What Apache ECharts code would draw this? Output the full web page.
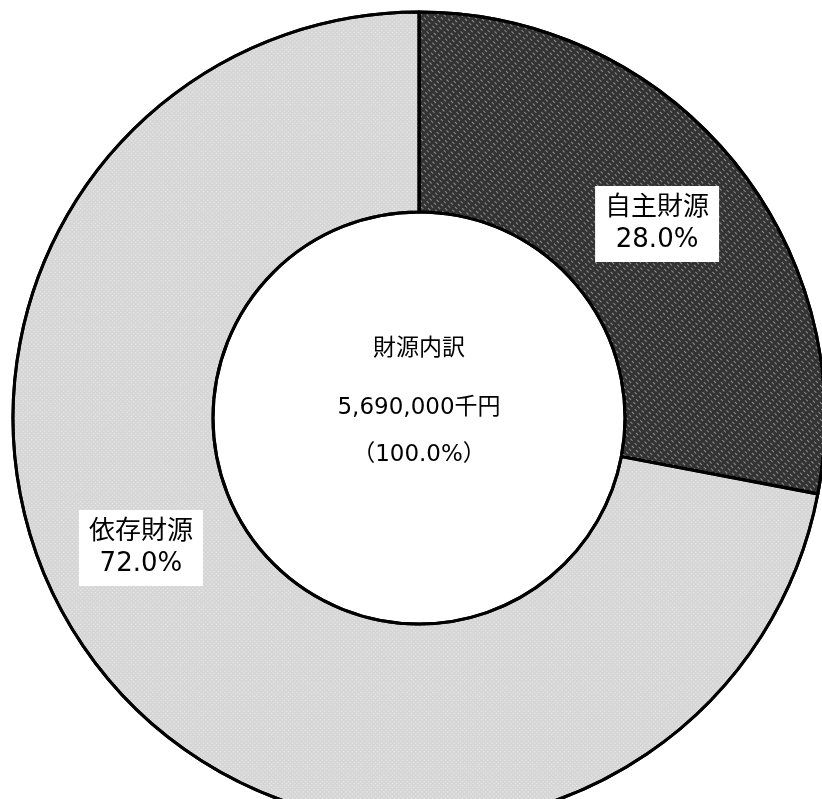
<!DOCTYPE html>
<html>
<head>
<meta charset="utf-8">
<script src="https://cdn.jsdelivr.net/npm/echarts@6/dist/echarts.min.js"></script>
<style>
html,body{margin:0;padding:0;background:#fff;}
#chart{width:822px;height:799px;}
</style>
</head>
<body>
<div id="chart"></div>
<script>
// Data
var categories = ['自主財源', '依存財源'];
var shares = [28.0, 72.0];
var centerLines = ['財源内訳', '5,690,000千円', '（100.0%）'];

var FONT = '"DejaVu Sans", "Noto Sans CJK JP", sans-serif';

var fills = ['#333333', '#d6d6d6'];
var decals = [
  {symbol: 'rect', symbolSize: 1, color: 'rgba(255,255,255,0.45)', dashArrayX: [[3, 3]], dashArrayY: [1, 3], rotation: Math.PI / 4},
  {symbol: 'rect', symbolSize: 1, color: 'rgba(255,255,255,0.55)', dashArrayX: [[1, 2]], dashArrayY: [1, 2], rotation: Math.PI / 4}
];
var labelOffsets = [[0, 3], [-40, -67]];

var data = categories.map(function (c, i) {
  return {
    name: c,
    value: shares[i],
    itemStyle: {color: fills[i], decal: decals[i]},
    label: {offset: labelOffsets[i]}
  };
});

var chart = echarts.init(document.getElementById('chart'), null, {renderer: 'canvas'});
chart.setOption({
  backgroundColor: '#ffffff',
  animation: false,
  aria: {enabled: true, decal: {show: true}},
  series: [{
    type: 'pie',
    center: [419, 418],
    radius: [206, 406],
    startAngle: 90,
    clockwise: true,
    avoidLabelOverlap: false,
    itemStyle: {borderColor: '#000', borderWidth: 3},
    emphasis: {disabled: true},
    label: {
      show: true,
      position: 'inside',
      formatter: function (p) { return p.name + '\n' + p.value.toFixed(1) + '%'; },
      fontFamily: FONT,
      fontSize: 26,
      lineHeight: 32,
      color: '#000',
      backgroundColor: '#fff',
      padding: [6, 10, 6, 10],
      align: 'center'
    },
    labelLine: {show: false},
    data: data
  }],
  graphic: centerLines.map(function (t, i) {
    var ys = [349, 408, 455];
    return {
      type: 'text',
      x: 419,
      y: ys[i],
      style: {
        text: t,
        fontFamily: FONT,
        fontSize: 23,
        fill: '#000',
        align: 'center',
        verticalAlign: 'middle'
      }
    };
  })
});
</script>
</body>
</html>
